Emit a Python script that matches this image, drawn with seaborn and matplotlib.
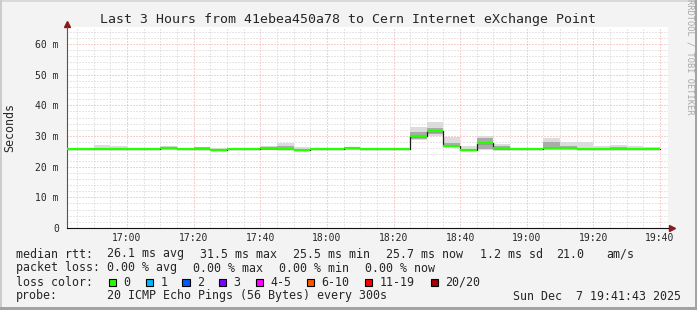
import matplotlib
matplotlib.use("Agg")
import matplotlib.pyplot as plt
import seaborn as sns
import numpy as np
import pandas as pd
from matplotlib.patches import Rectangle
from matplotlib.ticker import MultipleLocator, FixedLocator

# ---------------- data (minutes after 16:00, values in milliseconds) ----------------
bin_start = list(range(40, 220, 5))          # 5-minute steps, 16:40 .. 19:35
bin_end = 220                                 # 19:40
median = [25.6, 25.6, 25.6, 25.6, 25.6, 25.6, 26.1, 25.6, 25.6, 25.5,
          25.6, 25.6, 26.0, 25.6, 25.5, 25.6, 25.6, 26.0, 25.6, 25.6,
          25.6, 30.1, 31.5, 26.9, 25.5, 27.8, 26.2, 25.6, 25.6, 26.0,
          26.0, 25.6, 25.6, 25.9, 25.6, 25.7]
smoke_hi = [25.8, 25.8, 27.2, 26.6, 26.0, 26.0, 26.8, 26.1, 26.4, 26.0,
            25.9, 26.1, 26.8, 27.8, 26.4, 26.1, 25.9, 26.2, 25.9, 25.9,
            25.9, 33.0, 34.6, 29.8, 26.7, 30.0, 27.4, 25.9, 25.9, 29.4,
            27.9, 27.9, 26.6, 27.1, 26.6, 26.4]
smoke_lo = [25.3, 25.3, 25.3, 25.3, 25.3, 25.3, 25.4, 25.3, 25.3, 25.0,
            25.3, 25.3, 25.3, 25.3, 25.1, 25.3, 25.3, 25.3, 25.3, 25.3,
            25.3, 28.7, 30.0, 26.6, 25.3, 25.4, 25.2, 25.3, 25.3, 25.4,
            25.4, 25.3, 25.3, 25.3, 25.3, 25.3]
core_hi = [25.6, 25.6, 25.9, 25.9, 25.7, 25.7, 26.3, 25.7, 26.4, 25.6,
           25.6, 25.8, 26.2, 26.6, 25.8, 25.7, 25.6, 26.0, 25.6, 25.6,
           25.6, 31.4, 32.6, 27.8, 25.8, 29.2, 26.8, 25.6, 25.6, 28.1,
           26.8, 26.2, 25.8, 26.3, 25.8, 25.7]
core_lo = [25.5, 25.5, 25.5, 25.5, 25.5, 25.5, 25.6, 25.5, 25.5, 25.3,
           25.5, 25.5, 25.5, 25.5, 25.3, 25.5, 25.5, 25.6, 25.5, 25.5,
           25.5, 28.9, 30.5, 26.7, 25.5, 25.7, 25.5, 25.5, 25.5, 25.7,
           25.7, 25.5, 25.5, 25.6, 25.5, 25.5]

x_ticks = [60, 80, 100, 120, 140, 160, 180, 200, 220]
x_labels = ["17:00", "17:20", "17:40", "18:00", "18:20", "18:40", "19:00", "19:20", "19:40"]
y_ticks = [0, 10, 20, 30, 40, 50, 60]
y_labels = ["0", "10 m", "20 m", "30 m", "40 m", "50 m", "60 m"]

title = "Last 3 Hours from 41ebea450a78 to Cern Internet eXchange Point"

loss_labels = ["0", "1", "2", "3", "4-5", "6-10", "11-19", "20/20"]
loss_colors = ["#26ff00", "#00b8ff", "#0059ff", "#7e00ff", "#ff00ff", "#ff5500", "#ff0000", "#a10000"]

# ---------------- figure ----------------
W, H = 697, 310
sns.set_style("white")
plt.rcParams["font.family"] = ["DejaVu Sans Mono", "DejaVu Sans"]

fig = plt.figure(figsize=(W / 100, H / 100), dpi=100)
fig.patch.set_facecolor("#f3f3f3")

px_left, px_right, px_top, px_bottom = 67, 668, 27.3, 228
ax = fig.add_axes([px_left / W, (H - px_bottom) / H,
                   (px_right - px_left) / W, (px_bottom - px_top) / H])
ax.set_facecolor("white")
ax.set_xlim(41.99, 222.40)
ax.set_ylim(0, 65.45)

# grid
ax.xaxis.set_major_locator(FixedLocator(x_ticks))
ax.xaxis.set_minor_locator(MultipleLocator(5))
ax.yaxis.set_major_locator(FixedLocator(y_ticks))
ax.yaxis.set_minor_locator(MultipleLocator(2))
ax.set_axisbelow(True)
ax.grid(which="minor", color="#cfcfcf", linestyle=(0, (1, 2)), linewidth=0.72)
ax.grid(which="major", color="#f2a0a0", linestyle=(0, (1, 2)), linewidth=0.72)

# smoke
edges = bin_start + [bin_end]
def ext(a):
    return list(a) + [a[-1]]
ax.fill_between(edges, ext(smoke_lo), ext(smoke_hi), step="post",
                color="#dcdcdc", linewidth=0, zorder=2)
ax.fill_between(edges, ext(core_lo), ext(core_hi), step="post",
                color="#ababab", linewidth=0, zorder=3)

# median line (dark step) and loss-coloured median bars
df = pd.DataFrame({"t": edges, "median": ext(median)})
sns.lineplot(data=df, x="t", y="median", drawstyle="steps-post",
             color="#1e1e1e", linewidth=0.9, ax=ax, zorder=4)
ax.hlines(median, bin_start, edges[1:], colors="#26ff00", linewidth=1.6, zorder=5)

# ticks / labels
ax.set_xticks(x_ticks)
ax.set_xticklabels(x_labels)
ax.set_yticks(y_ticks)
ax.set_yticklabels(y_labels)
ax.tick_params(axis="both", which="major", labelsize=7, length=2.2, width=0.7,
               color="#555555", direction="out")
ax.tick_params(axis="y", which="major", pad=3.6)
ax.tick_params(axis="x", which="major", pad=1.6)
ax.tick_params(axis="both", which="minor", length=1.4, width=0.7, color="#888888",
               direction="out")
ax.set_xlabel("")
ax.set_ylabel("")

for s in ["top", "right"]:
    ax.spines[s].set_visible(False)
ax.spines["left"].set_color("#555555")
ax.spines["left"].set_linewidth(0.8)
ax.spines["bottom"].set_color("#111111")
ax.spines["bottom"].set_linewidth(0.8)

# axis extensions + arrows
arrow_col = "#8b1a1a"
ax.plot([0, 0], [1.0, 1.02], transform=ax.transAxes, color="#555555",
        lw=0.8, clip_on=False)
ax.plot([0], [1.0 + 3.5 / (px_bottom - px_top)], marker="^", markersize=4.2,
        color=arrow_col, transform=ax.transAxes, clip_on=False)
ax.plot([1.0, 1.0 + 3 / (px_right - px_left)], [0, 0], transform=ax.transAxes,
        color="#111111", lw=0.8, clip_on=False)
ax.plot([1.0 + 3.5 / (px_right - px_left)], [0], marker=">", markersize=4.2,
        color=arrow_col, transform=ax.transAxes, clip_on=False)

# ---------------- text ----------------
def ftext(x, y, s, **kw):
    kw.setdefault("va", "center")
    kw.setdefault("ha", "left")
    kw.setdefault("fontsize", 8.4)
    return fig.text(x / W, 1 - y / H, s, **kw)

ftext(348.5, 19, title, ha="center", fontsize=9.5)
ftext(10, 127, "Seconds", ha="center", rotation=90)
ftext(690, 57, "RRDTOOL / TOBI OETIKER", ha="center", rotation=270,
      fontsize=6.2, color="#a8a8a8")

ftext(16, 254, "median rtt:")
ftext(107.3, 254, "26.1 ms avg")
ftext(200, 254, "31.5 ms max")
ftext(293.3, 254, "25.5 ms min")
ftext(386, 254, "25.7 ms now")
ftext(480, 254, "1.2 ms sd")
ftext(556, 254, "21.0")
ftext(606.7, 254, "am/s")

ftext(16, 268, "packet loss:")
ftext(107.3, 268, "0.00 % avg")
ftext(193.3, 268, "0.00 % max")
ftext(279.3, 268, "0.00 % min")
ftext(365, 268, "0.00 % now")

ftext(16, 282.3, "loss color:")
box_x = [108.7, 145.7, 182.3, 219, 256, 306.7, 365, 430.7]
for bx, lab, col in zip(box_x, loss_labels, loss_colors):
    fig.add_artist(Rectangle((bx / W, 1 - 286 / H), 7.3 / W, 7.3 / H,
                             transform=fig.transFigure, facecolor=col,
                             edgecolor="black", linewidth=0.8))
    ftext(bx + 14.6, 282.3, lab)

ftext(16, 296, "probe:")
ftext(107.3, 296, "20 ICMP Echo Pings (56 Bytes) every 300s")
ftext(513.3, 296, "Sun Dec  7 19:41:43 2025")

# ---------------- frame ----------------
def frect(x, y, w, h, col):
    fig.add_artist(Rectangle((x / W, 1 - (y + h) / H), w / W, h / H,
                             transform=fig.transFigure, facecolor=col,
                             edgecolor="none", linewidth=0))

frect(0, 0, W, 2, "#dadada")
frect(0, 0, 2, H, "#cccccc")
frect(W - 2, 0, 2, H, "#a3a3a3")
frect(0, H - 3, W, 3, "#a3a3a3")

fig.savefig("out.png", dpi=100, facecolor=fig.get_facecolor())
